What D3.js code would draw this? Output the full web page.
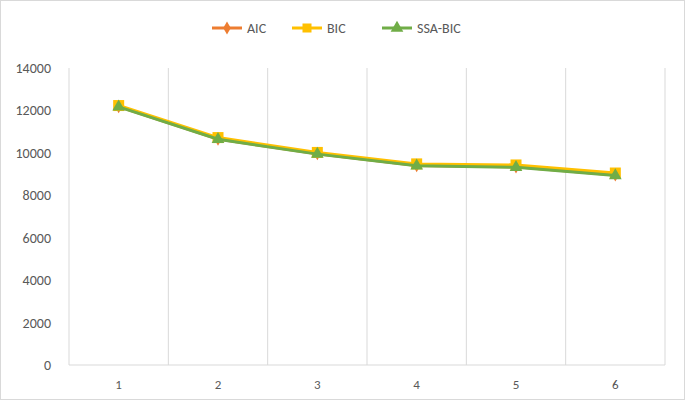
<!DOCTYPE html>
<html><head><meta charset="utf-8">
<script src="https://d3js.org/d3.v7.min.js"></script>
<style>body{margin:0;background:#fff;font-family:Calibri,Carlito,"Liberation Sans",Arial,sans-serif;}</style>
</head><body>
<svg id="chart" width="685" height="400"></svg>
<script>
var categories = ['1', '2', '3', '4', '5', '6'];
var aic = [12180, 10650, 9960, 9400, 9340, 8960];
var bic = [12230, 10720, 10020, 9480, 9430, 9050];
var ssaBic = [12170, 10640, 9940, 9390, 9320, 8930];
var yTicks = [0, 2000, 4000, 6000, 8000, 10000, 12000, 14000];
var seriesNames = ['AIC', 'BIC', 'SSA-BIC'];
var colors = ['#ED7D31', '#FFC000', '#70AD47'];

var svg = d3.select('#chart');
svg.append('rect').attr('x', 0.5).attr('y', 0.5).attr('width', 684).attr('height', 399)
    .attr('fill', '#fff').attr('stroke', '#d9d9d9');

var x = d3.scaleBand().domain(categories).range([69, 665]);
var y = d3.scaleLinear().domain([0, 14000]).range([365, 68]);

// vertical gridlines at category boundaries
var bounds = categories.map(function(c) { return x(c); }).concat([x.range()[1]]);
svg.selectAll('.grid').data(bounds).enter().append('line')
    .attr('x1', function(d) { return d; }).attr('x2', function(d) { return d; })
    .attr('y1', y(14000)).attr('y2', y(0))
    .attr('stroke', '#d9d9d9').attr('stroke-width', 1);

svg.append('line').attr('x1', 69).attr('x2', 665).attr('y1', y(0)).attr('y2', y(0))
    .attr('stroke', '#d9d9d9');

svg.selectAll('.ytick').data(yTicks).enter().append('text')
    .attr('x', 51).attr('y', function(d) { return y(d) + 5; })
    .attr('text-anchor', 'end').attr('font-size', 14).attr('fill', '#595959')
    .text(function(d) { return d; });

svg.selectAll('.xtick').data(categories).enter().append('text')
    .attr('x', function(d) { return x(d) + x.bandwidth() / 2; }).attr('y', 389)
    .attr('text-anchor', 'middle').attr('font-size', 13).attr('fill', '#595959')
    .text(function(d) { return d; });

var line = d3.line()
    .x(function(d, i) { return x(categories[i]) + x.bandwidth() / 2; })
    .y(function(d) { return y(d); });

function marker(g, type, color, size) {
    if (type === 0) g.append('path').attr('d', d3.symbol(d3.symbolDiamond, 50)()).attr('fill', color);
    else if (type === 1) g.append('rect').attr('x', -size / 2).attr('y', -size / 2).attr('width', size).attr('height', size).attr('fill', color);
    else g.append('path').attr('d', d3.symbol(d3.symbolTriangle, 70)()).attr('fill', color);
}

[aic, bic, ssaBic].forEach(function(data, s) {
    svg.append('path').datum(data).attr('d', line).attr('fill', 'none')
        .attr('stroke', colors[s]).attr('stroke-width', 3);
    data.forEach(function(v, i) {
        var g = svg.append('g').attr('transform', 'translate(' + (x(categories[i]) + x.bandwidth() / 2) + ',' + y(v) + ')');
        marker(g, s, colors[s], 11);
    });
});

// legend
var legendX = [212, 292, 382];
seriesNames.forEach(function(n, s) {
    var lx = legendX[s];
    svg.append('line').attr('x1', lx).attr('x2', lx + 30).attr('y1', 28).attr('y2', 28)
        .attr('stroke', colors[s]).attr('stroke-width', 3);
    var g = svg.append('g').attr('transform', 'translate(' + (lx + 15) + ',28)');
    marker(g, s, colors[s], 9);
    svg.append('text').attr('x', lx + 35).attr('y', 33).attr('font-size', 14).attr('fill', '#595959').text(n);
});
</script>
</body></html>
